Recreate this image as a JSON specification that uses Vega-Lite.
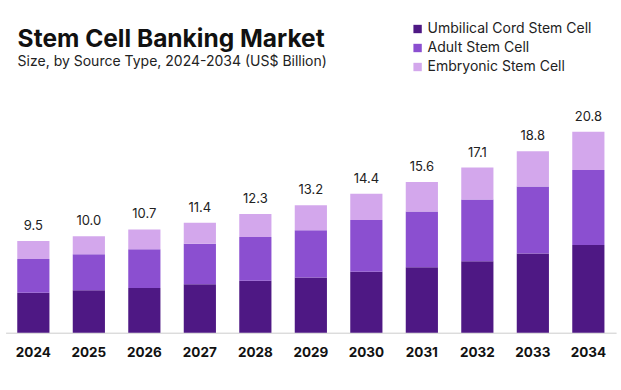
{
  "$schema": "https://vega.github.io/schema/vega-lite/v6.json",
  "width": 610.5,
  "height": 232.7,
  "autosize": {"type": "none"},
  "padding": {"left": 5.6, "top": 100, "right": 4.9, "bottom": 57.3},
  "background": "white",
  "config": {"view": {"stroke": null}, "font": "Inter"},
  "title": {
    "text": "Stem Cell Banking Market",
    "subtitle": "Size, by Source Type, 2024-2034 (US$ Billion)",
    "anchor": "start",
    "frame": "group",
    "fontSize": 24.5,
    "fontWeight": "bold",
    "color": "#111111",
    "subtitleFontSize": 14,
    "subtitleColor": "#222222",
    "subtitlePadding": 3,
    "dx": 12,
    "dy": 48,
    "offset": 0
  },
  "datasets": {
    "segments": [
      {"year": "2024", "type": "Umbilical Cord Stem Cell", "value": 4.15},
      {"year": "2024", "type": "Adult Stem Cell", "value": 3.47},
      {"year": "2024", "type": "Embryonic Stem Cell", "value": 1.88},
      {"year": "2025", "type": "Umbilical Cord Stem Cell", "value": 4.4},
      {"year": "2025", "type": "Adult Stem Cell", "value": 3.72},
      {"year": "2025", "type": "Embryonic Stem Cell", "value": 1.88},
      {"year": "2026", "type": "Umbilical Cord Stem Cell", "value": 4.63},
      {"year": "2026", "type": "Adult Stem Cell", "value": 4.0},
      {"year": "2026", "type": "Embryonic Stem Cell", "value": 2.07},
      {"year": "2027", "type": "Umbilical Cord Stem Cell", "value": 5.01},
      {"year": "2027", "type": "Adult Stem Cell", "value": 4.2},
      {"year": "2027", "type": "Embryonic Stem Cell", "value": 2.19},
      {"year": "2028", "type": "Umbilical Cord Stem Cell", "value": 5.39},
      {"year": "2028", "type": "Adult Stem Cell", "value": 4.53},
      {"year": "2028", "type": "Embryonic Stem Cell", "value": 2.38},
      {"year": "2029", "type": "Umbilical Cord Stem Cell", "value": 5.72},
      {"year": "2029", "type": "Adult Stem Cell", "value": 4.88},
      {"year": "2029", "type": "Embryonic Stem Cell", "value": 2.6},
      {"year": "2030", "type": "Umbilical Cord Stem Cell", "value": 6.3},
      {"year": "2030", "type": "Adult Stem Cell", "value": 5.37},
      {"year": "2030", "type": "Embryonic Stem Cell", "value": 2.73},
      {"year": "2031", "type": "Umbilical Cord Stem Cell", "value": 6.79},
      {"year": "2031", "type": "Adult Stem Cell", "value": 5.75},
      {"year": "2031", "type": "Embryonic Stem Cell", "value": 3.06},
      {"year": "2032", "type": "Umbilical Cord Stem Cell", "value": 7.41},
      {"year": "2032", "type": "Adult Stem Cell", "value": 6.38},
      {"year": "2032", "type": "Embryonic Stem Cell", "value": 3.31},
      {"year": "2033", "type": "Umbilical Cord Stem Cell", "value": 8.2},
      {"year": "2033", "type": "Adult Stem Cell", "value": 6.95},
      {"year": "2033", "type": "Embryonic Stem Cell", "value": 3.65},
      {"year": "2034", "type": "Umbilical Cord Stem Cell", "value": 9.08},
      {"year": "2034", "type": "Adult Stem Cell", "value": 7.76},
      {"year": "2034", "type": "Embryonic Stem Cell", "value": 3.96}
    ],
    "totals": [
      {"year": "2024", "total": 9.5},
      {"year": "2025", "total": 10.0},
      {"year": "2026", "total": 10.7},
      {"year": "2027", "total": 11.4},
      {"year": "2028", "total": 12.3},
      {"year": "2029", "total": 13.2},
      {"year": "2030", "total": 14.4},
      {"year": "2031", "total": 15.6},
      {"year": "2032", "total": 17.1},
      {"year": "2033", "total": 18.8},
      {"year": "2034", "total": 20.8}
    ]
  },
  "layer": [
    {
      "data": {"name": "segments"},
      "transform": [
        {"window": [{"op": "row_number", "as": "stackRank"}], "groupby": ["year"]}
      ],
      "mark": {"type": "bar"},
      "encoding": {
        "x": {
          "field": "year",
          "type": "nominal",
          "scale": {"paddingInner": 0.42, "paddingOuter": 0.21},
          "axis": {
            "title": null,
            "labelAngle": 0,
            "labelFontSize": 13.5,
            "labelFontWeight": "bold",
            "labelColor": "#111111",
            "labelPadding": 13,
            "ticks": false,
            "domainColor": "#cccccc",
            "domainWidth": 1
          }
        },
        "y": {
          "field": "value",
          "type": "quantitative",
          "stack": "zero",
          "scale": {"domain": [0, 24.1], "nice": false},
          "axis": null
        },
        "color": {
          "field": "type",
          "type": "nominal",
          "scale": {
            "domain": ["Umbilical Cord Stem Cell", "Adult Stem Cell", "Embryonic Stem Cell"],
            "range": ["#4e1884", "#8b4fd0", "#d3a7ec"]
          },
          "legend": {
            "title": null,
            "orient": "none",
            "legendX": 405,
            "legendY": -78,
            "symbolType": "square",
            "symbolSize": 70,
            "symbolStrokeWidth": 0,
            "labelFontSize": 14,
            "labelLimit": 0,
            "labelColor": "#222222",
            "labelOffset": 3,
            "rowPadding": 5
          }
        },
        "order": {"field": "stackRank", "type": "quantitative", "sort": "ascending"}
      }
    },
    {
      "data": {"name": "totals"},
      "mark": {"type": "text", "baseline": "bottom", "dy": -8, "fontSize": 13, "color": "#222222"},
      "encoding": {
        "x": {"field": "year", "type": "nominal"},
        "y": {"field": "total", "type": "quantitative"},
        "text": {"field": "total", "type": "quantitative", "format": ".1f"}
      }
    }
  ]
}
